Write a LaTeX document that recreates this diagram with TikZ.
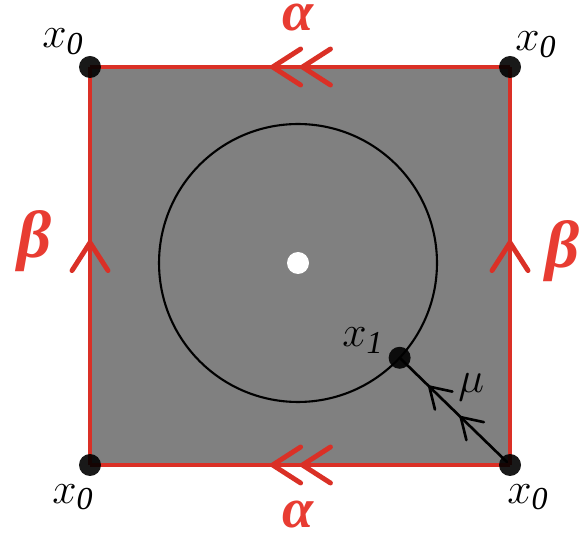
\documentclass[tikz,border=0pt]{standalone}
\usepackage{fontspec}
\setmainfont{Liberation Serif}
\usetikzlibrary{arrows.meta, decorations.markings}
\definecolor{edgeRed}{RGB}{218, 48, 38}
\definecolor{labelRed}{RGB}{232, 60, 50}

\begin{document}
\begin{tikzpicture}[x=0.02cm, y=-0.02cm]
    \tikzstyle{dot} = [circle, fill=black, fill opacity=0.9, inner sep=0pt, outer sep=0pt, minimum size=0.44cm]
    \tikzstyle{edge} = [draw, edgeRed, line width=2.8pt]
    \tikzstyle{lab} = [inner sep=0pt, anchor=base west, font=\fontsize{26}{28}\selectfont]
    \tikzstyle{greek} = [inner sep=0pt, anchor=base, text=labelRed, font=\fontsize{32}{34}\selectfont\bfseries\itshape]
    \tikzset{chev/.tip={Straight Barb[length=0.56cm, width=0.72cm, round]}}
    \tikzset{path chev/.tip={Straight Barb[length=0.4cm, width=0.5cm, round]}}
    \tikzstyle{double mark} = [postaction=decorate, decoration={markings,
        mark=at position 0.5 with {\arrow{chev}},
        mark=at position 0.571 with {\arrow{chev}}}]
    \tikzstyle{single mark} = [postaction=decorate, decoration={markings,
        mark=at position 0.565 with {\arrow{chev}}}]

    \useasboundingbox (0,0) rectangle (584,546);

    % surface
    \fill[black!50] (90,67) rectangle (510,465);
    \node[draw, circle, line width=1.2pt, inner sep=0pt, outer sep=0pt, minimum size=5.56cm] (loop) at (298,263) {};
    \node[circle, fill=white, inner sep=0pt, minimum size=0.44cm] (hole) at (298,263) {};

    % base points
    \coordinate (tl) at (90,67);
    \coordinate (tr) at (510,67);
    \coordinate (bl) at (90,465);
    \coordinate (br) at (510,465);
    \coordinate (x1pos) at (loop.-43.5);

    % path mu
    \draw[line width=1.5pt, postaction=decorate, decoration={markings,
        mark=at position 0.455 with {\arrow{path chev}},
        mark=at position 0.74 with {\arrow{path chev}}}] (br) -- (x1pos);

    % edges of the square
    \path[edge, double mark] (tr) -- (tl);
    \path[edge, double mark] (br) -- (bl);
    \path[edge, single mark] (bl) -- (tl);
    \path[edge, single mark] (br) -- (tr);

    \node[dot] (x0a) at (tl) {};
    \node[dot] (x0b) at (tr) {};
    \node[dot] (x0c) at (bl) {};
    \node[dot] (x0d) at (br) {};
    \node[dot] (x1) at (x1pos) {};

    % labels
    \node[lab] (l0a) at (42,48) {$x_{\mathit{0}}$};
    \node[lab] (l0b) at (515,51) {$x_{\mathit{0}}$};
    \node[lab] (l0c) at (52,503) {$x_{\mathit{0}}$};
    \node[lab] (l0d) at (507,503) {$x_{\mathit{0}}$};
    \node[lab] (l1) at (342,347) {$x_{\mathit{1}}$};
    \node[lab, font=\fontsize{32}{34}\selectfont] (lmu) at (458,393) {$\mu$};
    \node[greek] (alphaT) at (298,31) {α};
    \node[greek] (alphaB) at (298,527) {α};
    \node[greek, font=\fontsize{38}{40}\selectfont\bfseries\itshape] (betaL) at (35,258) {β};
    \node[greek, font=\fontsize{38}{40}\selectfont\bfseries\itshape] (betaR) at (563,268) {β};
\end{tikzpicture}
\end{document}
